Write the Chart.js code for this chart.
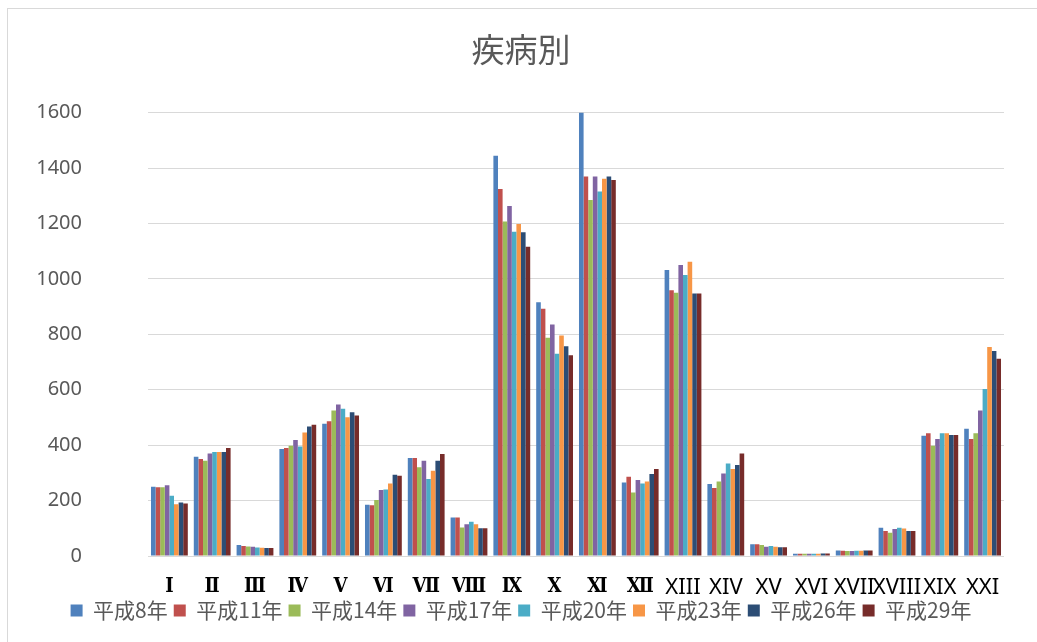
<!DOCTYPE html>
<html>
<head>
<meta charset="utf-8">
<script src="https://cdn.jsdelivr.net/npm/chart.js@4/dist/chart.umd.min.js"></script>
<style>
  body { margin: 0; background: #fff; }
  #frame { position: absolute; left: 7px; top: 8px; width: 1100px; height: 700px;
           border-left: 1px solid #d9d9d9; border-top: 1px solid #d9d9d9; }
  #chart { position: absolute; left: 0; top: 0; }
</style>
</head>
<body>
<div id="frame"></div>
<canvas id="chart" width="1037" height="642"></canvas>
<script>
// 疾病別 - categories I..XXI (XX is not shown)
const categories = ['Ⅰ', 'Ⅱ', 'Ⅲ', 'Ⅳ', 'Ⅴ', 'Ⅵ', 'Ⅶ', 'Ⅷ', 'Ⅸ', 'Ⅹ', 'Ⅺ', 'Ⅻ',
    'XIII', 'XIV', 'XV', 'XVI', 'XVII', 'XVIII', 'XIX', 'XXI'];

const seriesNames = ['平成8年', '平成11年', '平成14年', '平成17年', '平成20年', '平成23年', '平成26年', '平成29年'];
const seriesColors = ['#4F81BD', '#C0504D', '#9BBB59', '#8064A2', '#4BACC6', '#F79646', '#2C4D75', '#772C2A'];

const h8  = [250, 358, 40, 386, 477, 185, 354, 139, 1444, 916, 1600, 265, 1032, 260, 42, 8, 20, 102, 434, 459];
const h11 = [248, 350, 36, 390, 486, 183, 354, 139, 1324, 892, 1369, 286, 959, 245, 42, 8, 19, 90, 443, 422];
const h14 = [248, 344, 34, 398, 525, 202, 320, 103, 1207, 788, 1285, 229, 950, 269, 40, 8, 18, 84, 398, 443];
const h17 = [255, 370, 33, 419, 547, 238, 344, 115, 1263, 835, 1369, 274, 1050, 298, 33, 8, 18, 97, 422, 525];
const h20 = [217, 375, 31, 395, 531, 240, 278, 124, 1170, 730, 1315, 262, 1014, 334, 36, 8, 19, 102, 443, 603];
const h23 = [187, 375, 30, 446, 501, 262, 308, 115, 1198, 796, 1361, 269, 1062, 314, 33, 8, 19, 99, 443, 754];
const h26 = [193, 375, 29, 467, 519, 293, 344, 100, 1168, 757, 1369, 296, 947, 328, 32, 9, 20, 90, 437, 740];
const h29 = [189, 390, 29, 474, 507, 290, 368, 100, 1116, 724, 1357, 314, 947, 370, 32, 9, 20, 90, 437, 712];

const seriesValues = [h8, h11, h14, h17, h20, h23, h26, h29];

const yMin = 0;
const yMax = 1600;
const yStep = 200;

const datasets = seriesNames.map((name, i) => ({
    label: name,
    data: seriesValues[i],
    backgroundColor: seriesColors[i],
    borderWidth: 0,
    barPercentage: 1.0,
    categoryPercentage: 0.86
}));

const ctx = document.getElementById('chart').getContext('2d');
new Chart(ctx, {
    type: 'bar',
    data: { labels: categories, datasets: datasets },
    options: {
        responsive: false,
        animation: false,
        layout: { padding: { left: 38, right: 33, top: 0, bottom: 11 } },
        plugins: {
            title: {
                display: true,
                text: '疾病別',
                color: '#595959',
                font: { family: '"Noto Sans CJK JP"', size: 33, weight: 'normal' },
                padding: { top: 30, bottom: 43 }
            },
            legend: {
                position: 'bottom',
                labels: {
                    color: '#595959',
                    font: { family: '"Noto Sans CJK JP"', size: 21 },
                    boxWidth: 12,
                    boxHeight: 12,
                    padding: 6
                }
            },
            tooltip: { enabled: false }
        },
        scales: {
            x: {
                afterFit: (scale) => { scale.height = 38; },
                grid: { display: false, drawTicks: false },
                border: { display: false },
                ticks: {
                    autoSkip: false,
                    maxRotation: 0,
                    minRotation: 0,
                    padding: 19,
                    color: '#000',
                    font: (c) => c.index < 12
                        ? { family: '"DejaVu Serif Condensed", "DejaVu Serif"', size: 20, weight: 'bold' }
                        : { family: '"Noto Sans"', size: 22, weight: 'normal' }
                }
            },
            y: {
                min: yMin,
                max: yMax,
                afterFit: (scale) => { scale.width = 110; },
                grid: { color: '#d9d9d9', lineWidth: 1, drawTicks: false },
                border: { display: false },
                ticks: {
                    stepSize: yStep,
                    padding: 66,
                    color: '#595959',
                    font: { family: '"Noto Sans"', size: 20 },
                    callback: (v) => String(v)
                }
            }
        }
    }
});
</script>
</body>
</html>
